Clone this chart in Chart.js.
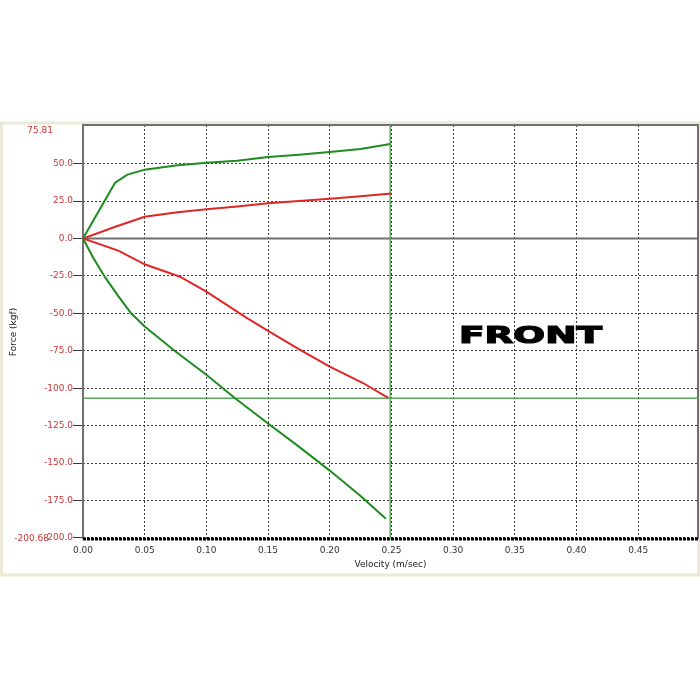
<!DOCTYPE html>
<html>
<head>
<meta charset="utf-8">
<script src="https://cdn.jsdelivr.net/npm/chart.js@4/dist/chart.umd.min.js"></script>
<style>
  body { margin: 0; background: #fff; }
  #wrap { width: 700px; height: 700px; }
</style>
</head>
<body>
<div id="wrap"><canvas id="grafico"></canvas></div>
<script>
// curve data (velocity m/sec, force kgf)
const greenUpV = [0, 0.026, 0.036, 0.05, 0.075, 0.1, 0.125, 0.15, 0.175, 0.2, 0.225, 0.249];
const greenUpF = [0, 37.3, 42.7, 46, 48.8, 50.6, 52, 54.4, 56, 57.8, 59.8, 63.1];
const redUpV = [0, 0.025, 0.05, 0.075, 0.1, 0.125, 0.15, 0.175, 0.2, 0.225, 0.25];
const redUpF = [0, 7.5, 14.5, 17.3, 19.5, 21.4, 23.5, 25, 26.5, 28.2, 30];
const greenLowV = [0, 0.0084, 0.018, 0.0286, 0.039, 0.05, 0.075, 0.1, 0.123, 0.15, 0.175, 0.2, 0.225, 0.2455];
const greenLowF = [0, -13, -26, -38.5, -49.9, -58.8, -75.5, -91, -106.5, -123.5, -139, -155, -172, -187.2];
const redLowV = [0, 0.0286, 0.05, 0.0786, 0.1, 0.133, 0.15, 0.176, 0.2, 0.227, 0.2474];
const redLowF = [0, -8.1, -17.2, -25.5, -35.5, -53.2, -61.7, -74.3, -85.5, -96.5, -106.5];

// axis ticks and limits
const xTicks = [0, 0.05, 0.1, 0.15, 0.2, 0.25, 0.3, 0.35, 0.4, 0.45];
const yTicks = [-200, -175, -150, -125, -100, -75, -50, -25, 0, 25, 50];
const yMax = 75.81;
const yMin = -200.68;
const xMax = 0.4985;

// green cursor lines
const cursorV = 0.249;
const cursorF = -106.7;

const punti = (vs, fs) => vs.map((v, i) => ({ x: v, y: fs[i] }));

const verde = "#1e8c1e";
const rosso = "#e02626";
const fontTxt = "DejaVu Sans";

const cornice = {
  id: "cornice",
  beforeDraw(chart) {
    const c = chart.ctx;
    c.save();
    c.strokeStyle = "#ebe9d8";
    c.lineWidth = 3;
    c.strokeRect(1.5, 123, 697, 452);
    c.restore();
  },
  beforeDatasetsDraw(chart) {
    const c = chart.ctx;
    const a = chart.chartArea;
    const x = chart.scales.x;
    const y = chart.scales.y;
    c.save();
    // zero line
    c.strokeStyle = "#707070";
    c.lineWidth = 2;
    c.beginPath();
    c.moveTo(a.left, y.getPixelForValue(0));
    c.lineTo(a.right, y.getPixelForValue(0));
    c.stroke();
    // frame
    c.beginPath();
    c.moveTo(a.left, a.bottom);
    c.lineTo(a.left, a.top);
    c.lineTo(a.right, a.top);
    c.lineTo(a.right, a.bottom);
    c.stroke();
    c.strokeStyle = "#000";
    c.lineWidth = 3;
    c.setLineDash([3, 1]);
    c.beginPath();
    c.moveTo(a.left, a.bottom);
    c.lineTo(a.right, a.bottom);
    c.stroke();
    c.setLineDash([]);
    // cursor lines
    c.strokeStyle = "#5aa85a";
    c.lineWidth = 1.5;
    c.beginPath();
    c.moveTo(x.getPixelForValue(cursorV), a.top);
    c.lineTo(x.getPixelForValue(cursorV), a.bottom);
    c.moveTo(a.left, y.getPixelForValue(cursorF));
    c.lineTo(a.right, y.getPixelForValue(cursorF));
    c.stroke();
    c.restore();
  },
  afterDraw(chart) {
    const c = chart.ctx;
    const a = chart.chartArea;
    c.save();
    c.fillStyle = "#c8363a";
    c.font = "9px " + fontTxt;
    c.textBaseline = "middle";
    c.textAlign = "right";
    c.fillText(yMax.toFixed(2), 53, 131);
    c.fillText(yMin.toFixed(2), 49, a.bottom);
    // FRONT label
    c.fillStyle = "#000";
    c.strokeStyle = "#000";
    c.lineWidth = 1.2;
    c.font = "bold 23px " + fontTxt;
    c.textAlign = "left";
    c.textBaseline = "alphabetic";
    const w = c.measureText("FRONT").width;
    c.translate(459, 343);
    c.scale(143 / w, 1);
    c.fillText("FRONT", 0, 0);
    c.strokeText("FRONT", 0, 0);
    c.restore();
  },
};

const config = {
  type: "scatter",
  data: {
    datasets: [
      { data: punti(greenUpV, greenUpF), borderColor: verde },
      { data: punti(redUpV, redUpF), borderColor: rosso },
      { data: punti(redLowV, redLowF), borderColor: rosso },
      { data: punti(greenLowV, greenLowF), borderColor: verde },
    ].map((d) => ({
      ...d,
      showLine: true,
      borderWidth: 2,
      pointRadius: 0,
      tension: 0,
    })),
  },
  options: {
    responsive: false,
    animation: false,
    layout: { padding: { top: 125, right: 2, left: 0, bottom: 126 } },
    plugins: { legend: { display: false }, tooltip: { enabled: false } },
    scales: {
      x: {
        type: "linear",
        min: 0,
        max: xMax,
        afterFit: (s) => { s.height = 35; },
        afterBuildTicks: (s) => { s.ticks = xTicks.map((v) => ({ value: v })); },
        grid: { color: "#3a3a3a", lineWidth: 1, drawTicks: false },
        border: { display: false, dash: [2, 2] },
        ticks: {
          color: "#333",
          padding: 6,
          font: { family: fontTxt, size: 9 },
          callback: (v) => v.toFixed(2),
          maxRotation: 0,
        },
        title: {
          display: true,
          text: "Velocity (m/sec)",
          color: "#222",
          font: { family: fontTxt, size: 9 },
          padding: { top: 0, bottom: 4 },
        },
      },
      y: {
        min: yMin,
        max: yMax,
        afterFit: (s) => { s.width = 83; },
        afterBuildTicks: (s) => { s.ticks = yTicks.map((v) => ({ value: v })); },
        grid: { color: "#3a3a3a", lineWidth: 1, tickLength: 10 },
        border: { display: false, dash: [2, 2] },
        ticks: {
          color: "#c8363a",
          padding: 0,
          font: { family: fontTxt, size: 9 },
          callback: (v) => v.toFixed(1),
        },
        title: {
          display: true,
          text: "Force (kgf)",
          color: "#222",
          font: { family: fontTxt, size: 9 },
          padding: { top: 8, bottom: 0 },
        },
      },
    },
  },
  plugins: [cornice],
};

const canvas = document.getElementById("grafico");
canvas.width = 700;
canvas.height = 700;
new Chart(canvas, config);
</script>
</body>
</html>
